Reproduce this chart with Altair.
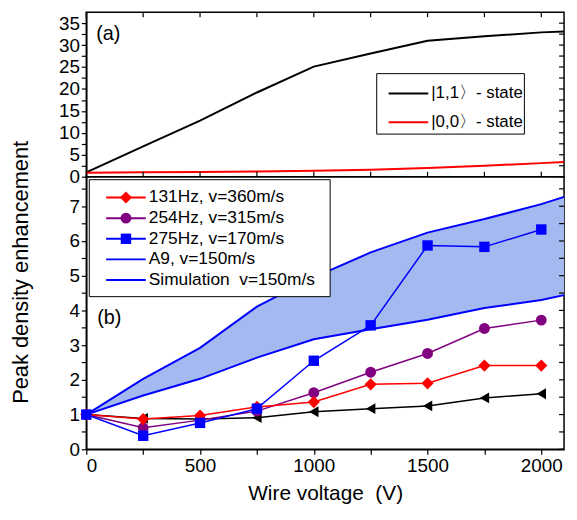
import altair as alt
import pandas as pd

# ---------------- data ----------------
# panel (a)
x_a = [0, 250, 500, 750, 1000, 1250, 1500, 1750, 2000, 2100]
state11 = [1.0, 6.9, 12.8, 19.2, 25.1, 28.1, 31.0, 32.0, 32.9, 33.1]
state00 = [0.9, 1.0, 1.1, 1.2, 1.35, 1.6, 2.0, 2.5, 3.1, 3.35]

# panel (b) measurements
x_b = [0, 250, 500, 750, 1000, 1250, 1500, 1750, 2000]
hz131 = [1.0, 0.87, 0.97, 1.22, 1.36, 1.87, 1.90, 2.41, 2.41]
hz254 = [1.0, 0.62, 0.84, 1.10, 1.63, 2.22, 2.76, 3.48, 3.72]
hz275 = [1.0, 0.39, 0.76, 1.17, 2.55, 3.57, 5.87, 5.83, 6.33]
black_tri = [1.0, 0.89, 0.87, 0.91, 1.08, 1.17, 1.25, 1.48, 1.60]

# panel (b) simulation band (A9 / Simulation, v=150m/s)
x_sim = [0, 250, 500, 750, 1000, 1250, 1500, 1750, 2000, 2100]
sim_upper = [1.0, 2.03, 2.92, 4.11, 4.95, 5.67, 6.24, 6.63, 7.06, 7.27]
sim_lower = [1.0, 1.55, 2.03, 2.64, 3.17, 3.46, 3.73, 4.07, 4.30, 4.44]

x_ticks = [0, 250, 500, 750, 1000, 1250, 1500, 1750, 2000]
ya_ticks = [i * 2.5 for i in range(15)]
yb_ticks = [i * 0.5 for i in range(16)]

legend_b = ["131Hz, v=360m/s", "254Hz, v=315m/s", "275Hz, v=170m/s",
            "A9, v=150m/s", "Simulation\u00a0 v=150m/s"]
legend_a = ["|1,1\u3009- state", "|0,0\u3009- state"]

FONT = "Liberation Sans"
W, HA, HB = 482, 166, 275

xs = alt.Scale(domain=[0, 2100], nice=False, zero=False)
ya_s = alt.Scale(domain=[0, 37.5], nice=False, zero=False)
yb_s = alt.Scale(domain=[0, 7.85], nice=False, zero=False)

x_axis_b = alt.Axis(values=x_ticks,
                    labelExpr="datum.value % 500 == 0 ? format(datum.value, 'd') : ''",
                    title="Wire voltage\u00a0 (V)", titleFontSize=21, titleFont=FONT,
                    titleFontWeight="normal", titlePadding=8, grid=False)
y_axis_a = alt.Axis(values=ya_ticks,
                    labelExpr="datum.value % 5 == 0 ? format(datum.value, 'd') : ''",
                    title=None, grid=False)
y_axis_b = alt.Axis(values=yb_ticks,
                    labelExpr="datum.value % 1 == 0 ? format(datum.value, 'd') : ''",
                    title="Peak density enhancement", titleFontSize=22, titleFont=FONT,
                    titleFontWeight="normal", titleAngle=270, titleX=-66, titleY=96,
                    titleAlign="center", titleBaseline="middle", grid=False)


def xa(f="x"):
    return alt.X(f + ":Q", scale=xs, axis=None)


def xb(f="x"):
    return alt.X(f + ":Q", scale=xs, axis=x_axis_b)


def ya(f="y"):
    return alt.Y(f + ":Q", scale=ya_s, axis=y_axis_a)


def yb(f="y"):
    return alt.Y(f + ":Q", scale=yb_s, axis=y_axis_b)


one = pd.DataFrame({"a": [0]})

# ---------------- panel (a) ----------------
da11 = pd.DataFrame({"x": x_a, "y": state11})
da00 = pd.DataFrame({"x": x_a, "y": state00})
dxt = pd.DataFrame({"x": x_ticks})
dyat = pd.DataFrame({"y": ya_ticks})
dybt = pd.DataFrame({"y": yb_ticks})

a_layers = [
    alt.Chart(da11).mark_line(color="black", strokeWidth=2).encode(x=xa(), y=ya()),
    alt.Chart(da00).mark_line(color="red", strokeWidth=2).encode(x=xa(), y=ya()),
    alt.Chart(dxt).mark_rule(color="black", strokeWidth=1.2).encode(
        x=xa(), y=alt.value(0), y2=alt.value(5)),
    alt.Chart(dxt).mark_rule(color="black", strokeWidth=1.2).encode(
        x=xa(), y=alt.value(HA - 5), y2=alt.value(HA)),
    alt.Chart(dyat).mark_rule(color="black", strokeWidth=1.2).encode(
        y=ya(), x=alt.value(W - 5), x2=alt.value(W)),
    alt.Chart(one).mark_text(text="(a)", font=FONT, fontSize=20, align="left",
                             baseline="middle").encode(x=alt.value(10), y=alt.value(22)),
    alt.Chart(one).mark_rect(fill="white", stroke="black", strokeWidth=1).encode(
        x=alt.value(293), x2=alt.value(442), y=alt.value(62), y2=alt.value(123)),
]
for lab, col, yy in zip(legend_a, ["black", "red"], [82, 111]):
    a_layers.append(alt.Chart(one).mark_rule(color=col, strokeWidth=2).encode(
        x=alt.value(305), x2=alt.value(345), y=alt.value(yy)))
    a_layers.append(alt.Chart(one).mark_text(text=lab, font=FONT, fontSize=17, align="left",
                                             baseline="middle").encode(
        x=alt.value(348), y=alt.value(yy)))

panel_a = alt.layer(*a_layers).properties(width=W, height=HA)

# ---------------- panel (b) ----------------
dband = pd.DataFrame({"x": x_sim, "lo": sim_lower, "hi": sim_upper})
series = [
    (black_tri, "black", "triangle-left", 120),
    (hz254, "#800080", "circle", 120),
    (hz131, "red", "diamond", 150),
    (hz275, "blue", "square", 110),
]

b_layers = [
    alt.Chart(dband).mark_area(color="#a3b9f0", opacity=1).encode(
        x=xb(), y=yb("lo"), y2="hi:Q"),
    alt.Chart(dband).mark_line(color="blue", strokeWidth=2).encode(x=xb(), y=yb("hi")),
    alt.Chart(dband).mark_line(color="blue", strokeWidth=2).encode(x=xb(), y=yb("lo")),
]
for vals, col, shp, sz in series:
    d = pd.DataFrame({"x": x_b, "y": vals})
    b_layers.append(alt.Chart(d).mark_line(color=col, strokeWidth=1.5).encode(x=xb(), y=yb()))
    b_layers.append(alt.Chart(d).mark_point(color=col, shape=shp, size=sz, filled=True,
                                            opacity=1).encode(x=xb(), y=yb()))

b_layers += [
    alt.Chart(dybt).mark_rule(color="black", strokeWidth=1.2).encode(
        y=yb(), x=alt.value(W - 5), x2=alt.value(W)),
    alt.Chart(one).mark_text(text="(b)", font=FONT, fontSize=20, align="left",
                             baseline="middle").encode(x=alt.value(11), y=alt.value(143)),
    alt.Chart(one).mark_rect(fill="white", stroke="black", strokeWidth=1).encode(
        x=alt.value(3), x2=alt.value(246), y=alt.value(3), y2=alt.value(121)),
]
leg_style = [("red", "diamond", 150), ("#800080", "circle", 120), ("blue", "square", 110),
             ("blue", None, 0), ("blue", None, 0)]
for i, (lab, (col, shp, sz)) in enumerate(zip(legend_b, leg_style)):
    yy = 21 + i * 20.8
    b_layers.append(alt.Chart(one).mark_rule(color=col, strokeWidth=2).encode(
        x=alt.value(20), x2=alt.value(60), y=alt.value(yy)))
    if shp:
        b_layers.append(alt.Chart(one).mark_point(color=col, shape=shp, size=sz, filled=True,
                                                  opacity=1).encode(
            x=alt.value(40), y=alt.value(yy)))
    b_layers.append(alt.Chart(one).mark_text(text=lab, font=FONT, fontSize=17.5, align="left",
                                             baseline="middle").encode(
        x=alt.value(63), y=alt.value(yy)))

panel_b = alt.layer(*b_layers).properties(width=W, height=HB)

chart = alt.vconcat(panel_a, panel_b, spacing=0, bounds="flush").properties(
    padding={"left": 1, "top": 0, "right": 0, "bottom": 0}
).configure_view(stroke="black", strokeWidth=1.5).configure_axis(
    labelFont=FONT, labelFontSize=19, labelColor="black", tickColor="black",
    domainColor="black", domainWidth=1.5, tickWidth=1.2, tickSize=5, labelPadding=2,
    titleColor="black"
)

chart.save("out.html", embed_options={"renderer": "svg", "actions": False})
